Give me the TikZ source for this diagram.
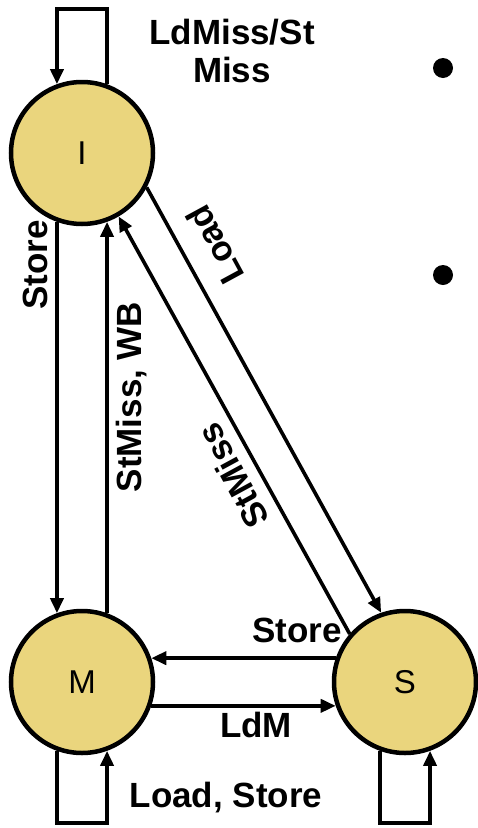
\documentclass[tikz,border=0pt]{standalone}
\usepackage{fontspec}
\setmainfont{Liberation Sans}
\usetikzlibrary{arrows.meta}
\definecolor{statefill}{RGB}{234,213,125}
\begin{document}
\begin{tikzpicture}[x=1pt,y=-1pt,
  state/.style={circle,draw=black,line width=4.5pt,fill=statefill,minimum size=142pt,inner sep=0pt,font=\fontsize{33}{36}\selectfont},
  arr/.style={line width=3.6pt,-{Triangle[length=15pt,width=13pt]}},
  lbl/.style={font=\fontsize{35}{38}\selectfont\bfseries,inner sep=0pt,align=center},
  dot/.style={circle,fill=black,minimum size=20pt,inner sep=0pt}]
\useasboundingbox (0,0) rectangle (478,828);
\node[state] (I) at (82,153) {I};
\node[state] (M) at (82,682) {M};
\node[state] (S) at (405,682) {S};
% self loops
\draw[arr] (I.70) -- (I.70 |- 0,9) -- (I.110 |- 0,9) -- (I.110);
\draw[arr] (M.250) -- (M.250 |- 0,823) -- (M.290 |- 0,823) -- (M.290);
\draw[arr] (S.250) -- (S.250 |- 0,823) -- (S.290 |- 0,823) -- (S.290);
% I <-> M
\draw[arr] (I.250) -- (M.110);
\draw[arr] (M.70) -- (I.290);
% I <-> S
\draw[arr] (I.332.5) -- (S.109);
\draw[arr] (S.139) -- (I.300);
% M <-> S
\draw[arr] (S.161) -- (M.19);
\draw[arr] (M.341) -- (S.199);
% labels
\node[lbl] (l1) at (232,51) {LdMiss/St\\Miss};
\node[lbl,rotate=90] (l2) at (35,265) {Store};
\node[lbl,rotate=90] (l3) at (132,397) {StMiss, WB};
\node[lbl,rotate=118.5] (l4) at (215,245) {Load};
\node[lbl,rotate=118.5] (l5) at (233,476) {StMiss};
\node[lbl] (l6) at (297,630) {Store};
\node[lbl] (l7) at (256,725) {LdM};
\node[lbl] (l8) at (226,798) {Load, Store};
\node[dot] (d1) at (443,68) {};
\node[dot] (d2) at (443,275) {};
\end{tikzpicture}
\end{document}
